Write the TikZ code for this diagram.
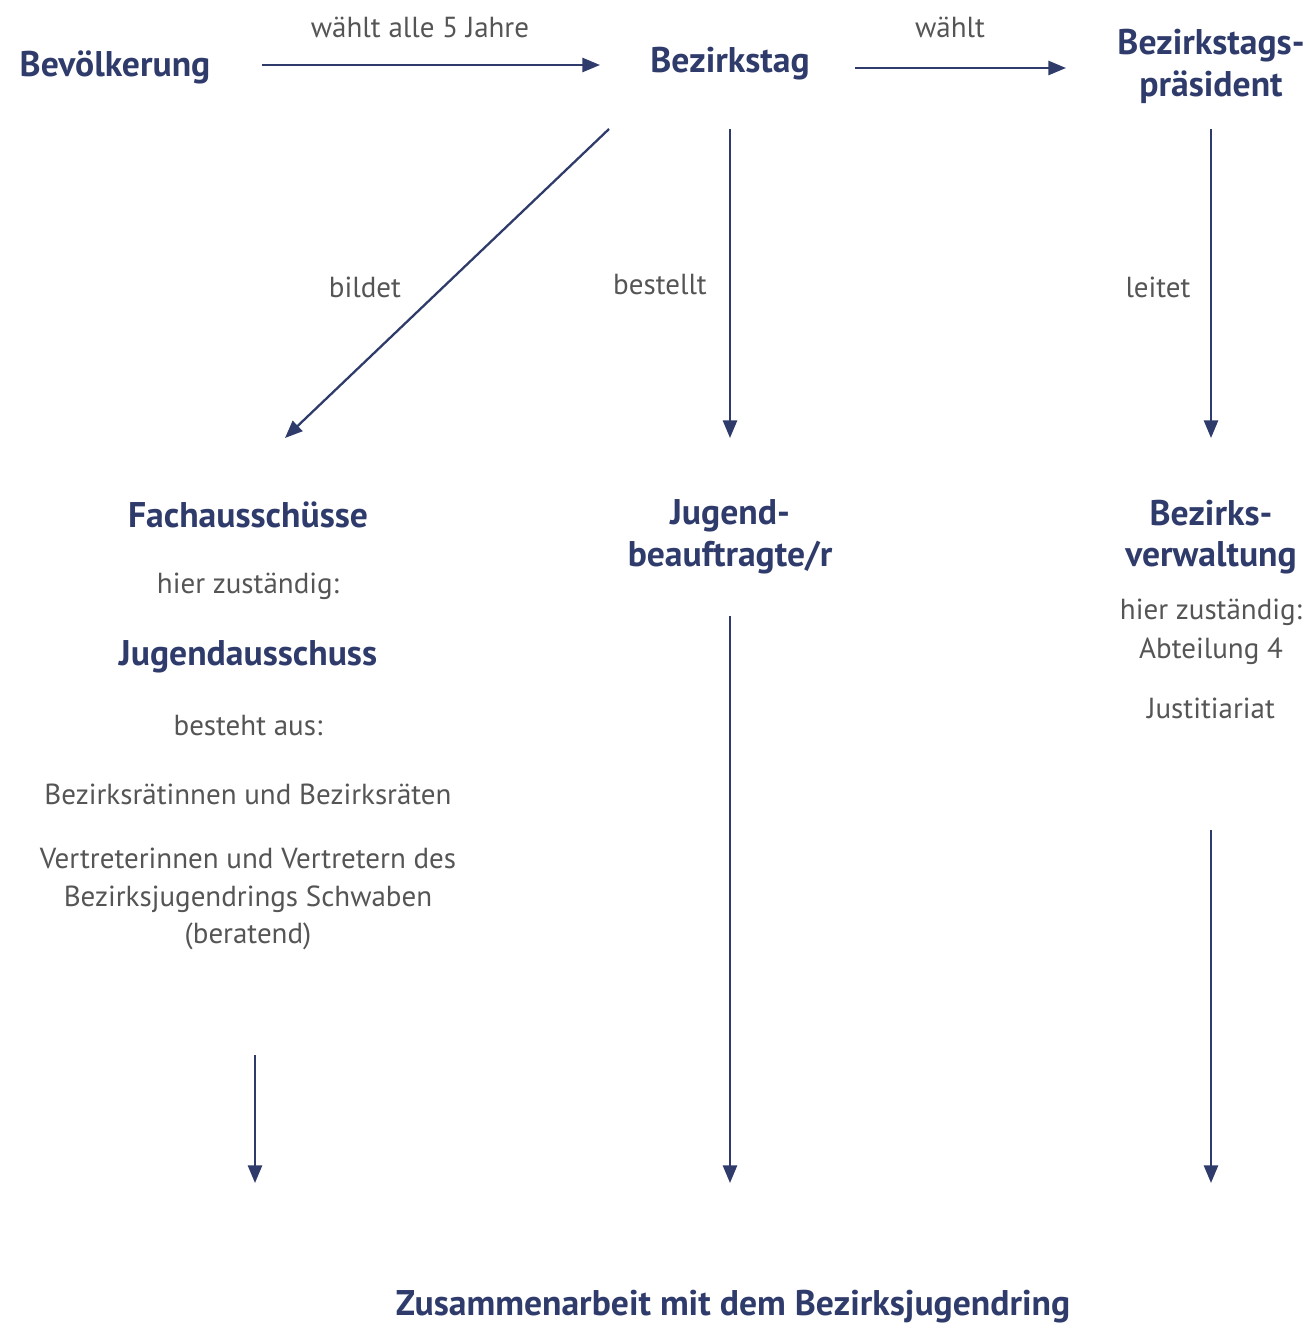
\documentclass[tikz,border=0pt]{standalone}
\usepackage{fontspec}
\setmainfont{PT Sans}
\usetikzlibrary{arrows.meta}
\definecolor{dunkelblau}{HTML}{2F3B6B}
\definecolor{grautext}{HTML}{555555}

\begin{document}
\begin{tikzpicture}[x=0.02cm,y=-0.02cm,
		titel/.style={text=dunkelblau, font=\fontsize{20.3}{23.8}\selectfont\bfseries, align=center, inner sep=0pt},
		info/.style={text=grautext, font=\fontsize{16.5}{21.3}\selectfont, align=center, inner sep=0pt},
		pfeil/.style={draw=dunkelblau, line width=1.3pt, -{Triangle[length=10pt,width=8pt]}}]
		\useasboundingbox (0,0) rectangle (1310,1329);
		
		% obere Reihe
		\node[titel] (bev) at (115,67) {Bevölkerung};
		\node[titel] (tag) at (730,64) {Bezirkstag};
		\node[titel] (praes) at (1211,66) {Bezirkstags-\\präsident};
		\node[info] (waehlt5) at (420,27) {wählt alle 5 Jahre};
		\node[info] (waehlt) at (950,27) {wählt};
		\coordinate (bev-aus) at (262,65); \coordinate (tag-ein) at (600,65);
		\coordinate (tag-aus) at (855,68); \coordinate (praes-ein) at (1066,68);
		\draw[pfeil] (bev-aus) -- (tag-ein);
		\draw[pfeil] (tag-aus) -- (praes-ein);
		
		% zweite Ebene
		\coordinate (tag-diag) at (609,129); \coordinate (fach-ein) at (285,438);
		\coordinate (tag-unten) at (730,129); \coordinate (jug-ein) at (730,438);
		\coordinate (praes-unten) at (1211,129); \coordinate (verw-ein) at (1211,438);
		\draw[pfeil] (tag-diag) -- (fach-ein);
		\draw[pfeil] (tag-unten) -- (jug-ein);
		\draw[pfeil] (praes-unten) -- (verw-ein);
		\node[info] (bildet) at (365,287) {bildet};
		\node[info] (bestellt) at (660,285) {bestellt};
		\node[info] (leitet) at (1158,287) {leitet};
		
		% linke Spalte
		\node[titel] (fach) at (248,515) {Fachausschüsse};
		\node[info] (fachzust) at (248,586) {hier zuständig:};
		\node[titel] (jugaus) at (248,657) {Jugendausschuss};
		\node[info] (besteht) at (248,726) {besteht aus:};
		\node[info] (raete) at (248,794) {Bezirksrätinnen und Bezirksräten};
		\node[info] (vertr) at (248,899) {Vertreterinnen und Vertretern des\\Bezirksjugendrings Schwaben\\(beratend)};
		
		% mittlere Spalte
		\node[titel] (jug) at (730,537) {Jugend-\\beauftragte/r};
		
		% rechte Spalte
		\node[titel] (verw) at (1211,537) {Bezirks-\\verwaltung};
		\node[info] (verwzust) at (1211,612) {hier zuständig:};
		\node[info] (abt) at (1211,651) {Abteilung 4};
		\node[info] (justi) at (1211,708) {Justitiariat};
		
		% untere Pfeile
		\coordinate (fach-aus) at (255,1055); \coordinate (zus-links) at (255,1183);
		\coordinate (jug-aus) at (730,616); \coordinate (zus-mitte) at (730,1183);
		\coordinate (verw-aus) at (1211,830); \coordinate (zus-rechts) at (1211,1183);
		\draw[pfeil] (fach-aus) -- (zus-links);
		\draw[pfeil] (jug-aus) -- (zus-mitte);
		\draw[pfeil] (verw-aus) -- (zus-rechts);
		
		\node[titel] (zus) at (733,1307) {Zusammenarbeit mit dem Bezirksjugendring};
	\end{tikzpicture}
\end{document}
